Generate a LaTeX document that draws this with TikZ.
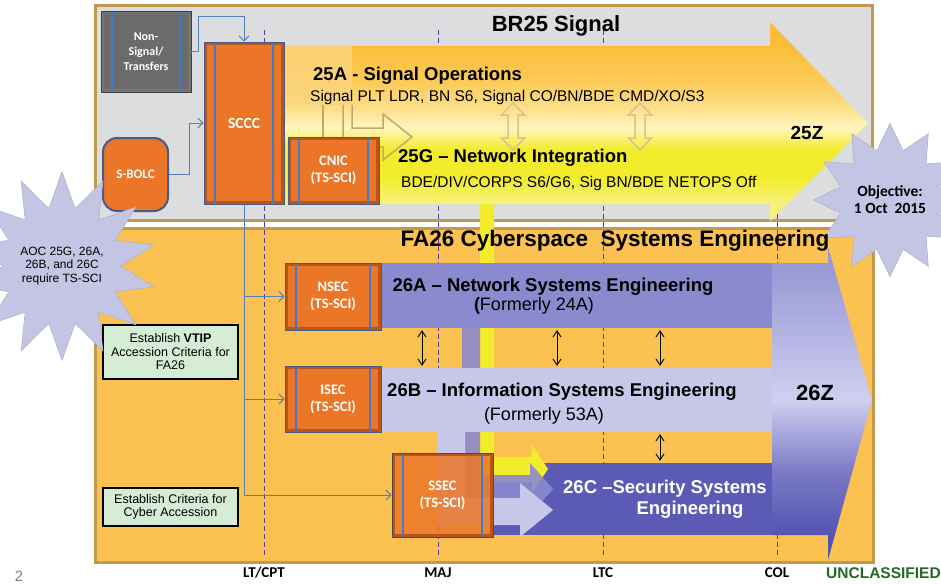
\documentclass[tikz,border=0pt]{standalone}
\usepackage{fontspec}
\setmainfont{Liberation Sans}
\newfontfamily\calib{Carlito}
\usetikzlibrary{positioning,arrows.meta,shapes.geometric}

\definecolor{topgray}{HTML}{DCDDDF}
\definecolor{frametan}{HTML}{BF9A50}
\definecolor{fagold}{HTML}{FBC151}
\definecolor{boxorange}{HTML}{EC7628}
\definecolor{boxrim}{HTML}{BA5519}
\definecolor{boxedge}{HTML}{4A5A86}
\definecolor{stripeblue}{HTML}{3F7BC9}
\definecolor{nsgray}{HTML}{6B6B6B}
\definecolor{connblue}{HTML}{5580B8}
\definecolor{rankpurple}{HTML}{5A3D8F}
\definecolor{lav26A}{HTML}{8A8ACE}
\definecolor{lav26B}{HTML}{C7C7EA}
\definecolor{blue26C}{HTML}{5B5BB5}
\definecolor{starlav}{HTML}{C4C4E4}
\definecolor{vtipgreen}{HTML}{D6EDD5}
\definecolor{unclgreen}{HTML}{206A24}
\definecolor{hollowtan}{HTML}{C4A868}
\definecolor{sigblock}{HTML}{FBD57E}
% 25 series colours
\definecolor{sigorange}{HTML}{FBBD38}
\definecolor{sigorangeb}{HTML}{FCCB58}
\definecolor{sigmid}{HTML}{FDE08C}
\definecolor{sigpale}{HTML}{FFF6BE}
\definecolor{sigyellow}{HTML}{F2EC2C}
\definecolor{sigpaleb}{HTML}{F5F17C}
% 26 series colours
\definecolor{zztop}{HTML}{9898D6}
\definecolor{zzlight}{HTML}{CFCFF0}
\definecolor{zzmid}{HTML}{7A7AC6}
\definecolor{zzdark}{HTML}{5454B2}

\pgfdeclareverticalshading{sigshade}{100bp}{color(0bp)=(sigpaleb); color(29.5bp)=(sigpaleb); color(36bp)=(sigyellow); color(43bp)=(sigyellow); color(48.5bp)=(sigpale); color(53bp)=(sigmid); color(60bp)=(sigorangeb); color(69bp)=(sigorange); color(100bp)=(sigorange)}
\pgfdeclareverticalshading{zshade}{100bp}{color(0bp)=(zzdark); color(29bp)=(zzdark); color(39bp)=(zzmid); color(50.6bp)=(zzlight); color(72bp)=(zztop); color(100bp)=(zztop)}

\tikzset{
  unitbox/.style={draw=boxedge, line width=0.8pt, fill=boxorange, text=white, align=center,
    font=\calib\bfseries\fontsize{14.5}{17}\selectfont,
    path picture={
      \draw[#1, line width=3pt] ([shift={(1.5pt,-1.5pt)}]path picture bounding box.north west) rectangle ([shift={(-1.5pt,1.5pt)}]path picture bounding box.south east);
      \draw[stripeblue, line width=1.2pt] ([xshift=11pt]path picture bounding box.north west) -- ([xshift=11pt]path picture bounding box.south west);
      \draw[stripeblue, line width=1.2pt] ([xshift=-11pt]path picture bounding box.north east) -- ([xshift=-11pt]path picture bounding box.south east);
    }},
  unitbox/.default=boxrim,
  bolcbox/.style={draw=boxedge, line width=2pt, fill=boxorange, rounded corners=14pt, text=white,
    font=\calib\bfseries\fontsize{13}{15}\selectfont},
  band/.style={draw=none, inner sep=0pt},
  conn/.style={draw=connblue, line width=1pt, -{Straight Barb[length=5pt,width=10pt]}},
  twoway/.style={draw=black, line width=0.9pt, {Straight Barb[length=6pt,width=8pt]}-{Straight Barb[length=6pt,width=8pt]}, shorten >=2pt, shorten <=2pt},
  hollowarrow/.style={draw=hollowtan, line width=1.5pt, line join=miter},
  rankline/.style={draw=rankpurple, line width=1pt, dash pattern=on 5pt off 3pt},
  ranklab/.style={font=\calib\bfseries\fontsize{15}{17}\selectfont},
  critbox/.style={draw=black, line width=1.2pt, fill=vtipgreen, align=center, font=\fontsize{12.5}{13.5}\selectfont},
  burst/.style={star, draw=starlav!75!gray, line width=0.6pt, fill=starlav, align=center, inner sep=0pt},
}

\begin{document}
\begin{tikzpicture}[x=1pt, y=-1pt, every node/.style={inner sep=0pt}]
\useasboundingbox (0,0) rectangle (941,583);

% the two frames
\draw[frametan, line width=3pt, fill=topgray] (95,6) rectangle (872,220);
\draw[frametan, line width=3pt, fill=fagold] (95,228) rectangle (873,562);

% rank lines
\foreach \x/\rank [count=\i] in {264/{LT/CPT},438/MAJ,603/LTC,777/COL}{
  \draw[rankline] (\x,30) -- (\x,555);
  \node[ranklab] (rank\i) at (\x,573) {\rank};
}

% 25 series arrow
\shade[shading=sigshade] (284,46) -- (770,46) -- (770,22) -- (868,123) -- (770,221) -- (770,204) -- (284,204) -- cycle;
\node[fill=sigblock, fill opacity=0.8, minimum width=67pt, minimum height=60pt] (sig25A) at (318.5,75) {};

% bent arrow 25A -> 25G
\draw[hollowarrow] (343,105) -- (343,147) -- (383,147) -- (383,160) -- (412,137) -- (383,114) -- (383,128) -- (352,128) -- (352,105);

% two-way hollow arrows
\foreach \x in {513,640}
  \draw[hollowarrow, draw=hollowtan!70] (\x,103) -- (\x+11.5,115) -- (\x+5,115) -- (\x+5,138) -- (\x+11.5,138) -- (\x,150) -- (\x-11.5,138) -- (\x-5,138) -- (\x-5,115) -- (\x-11.5,115) -- cycle;

% 26 series tracks
\node[band, fill=blue26C, minimum width=279pt, minimum height=72pt] (b26C) at (632.5,499) {};
\fill[sigyellow] (480,204) -- (494,204) -- (494,457) -- (532,457) -- (532,445) -- (548,469) -- (532,493) -- (532,482) -- (480,482) -- cycle;
\fill[lav26A, fill opacity=0.9] (462,328) -- (480,328) -- (480,475) -- (530,475) -- (530,463) -- (553,489) -- (530,515) -- (530,500) -- (462,500) -- cycle;
\fill[lav26B] (438,432) -- (465,432) -- (465,498) -- (520,498) -- (520,483) -- (553,510) -- (520,537) -- (520,525) -- (438,525) -- cycle;
\node[band, fill=lav26A, minimum width=392pt, minimum height=65pt] (b26A) at (576,295.5) {};
\node[band, fill=lav26B, minimum width=392pt, minimum height=64pt] (b26B) at (576,400) {};
\shade[shading=zshade] (772,263) -- (828,263) -- (828,247) -- (872,400) -- (828,560) -- (828,535) -- (772,535) -- cycle;

% course boxes
\node[unitbox=black!55, fill=nsgray, draw=black!75, minimum width=90pt, minimum height=81pt,
  font=\calib\bfseries\fontsize{12}{15}\selectfont] (nonsig) at (146,51.5) {Non-\\Signal/\\Transfers};
\node[unitbox, minimum width=80pt, minimum height=162pt, font=\calib\bfseries\fontsize{15.5}{17}\selectfont] (SCCC) at (244,123) {SCCC};
\node[bolcbox, minimum width=65pt, minimum height=73pt] (sbolc) at (135.5,174.5) {S-BOLC};
\node[unitbox, minimum width=91pt, minimum height=67pt] (CNIC) at (333.5,170.5) {CNIC\\(TS-SCI)};
\node[unitbox, minimum width=96pt, minimum height=67pt] (NSEC) at (333,296.5) {NSEC\\(TS-SCI)};
\node[unitbox, minimum width=96pt, minimum height=66pt] (ISEC) at (333,399) {ISEC\\(TS-SCI)};
\node[unitbox, fill opacity=0.85, text opacity=1, draw=black!70, minimum width=101pt, minimum height=84pt] (SSEC) at (442.5,495) {SSEC\\(TS-SCI)};

\draw[hollowarrow] ([xshift=4.5pt]sig25A.south) -- ([xshift=4.5pt]sig25A.south |- CNIC.north);

% feeds
\draw[conn] (nonsig.east) -- ++(7,0) |- ([yshift=25pt]SCCC.north) -- (SCCC.north);
\draw[conn] (sbolc.east) -- ++(20,0) |- (SCCC.west);
\draw[conn] (SCCC.south) |- (NSEC.west);
\draw[conn] (SCCC.south) |- (ISEC.west);
\draw[conn] (SCCC.south) |- (SSEC.west);

% two-way links between tracks
\foreach \dx in {-154,-19,84}
  \draw[twoway] ([xshift=\dx pt]b26A.south) -- ([xshift=\dx pt]b26B.north);
\draw[twoway] ([xshift=84pt]b26B.south) -- ([xshift=84pt]b26B.south |- b26C.north);

% accession boxes
\node[critbox, minimum width=135pt, minimum height=54pt] (vtip) at (170.5,352) {Establish \textbf{VTIP}\\Accession Criteria for\\FA26};
\node[critbox, minimum width=135pt, minimum height=38pt] (cyber) at (170.5,507) {Establish Criteria for\\Cyber Accession};

% notes
\node[burst, star points=14, star point ratio=1.6, minimum size=160pt, font=\fontsize{12}{13.5}\selectfont] (aoc) at (62,266) {AOC 25G, 26A,\\26B, and 26C\\require TS-SCI};
\node[burst, star points=12, star point ratio=1.5, minimum size=108pt, font=\calib\bfseries\fontsize{15.5}{17}\selectfont] (goal) at (890,200) {Objective:\\1 Oct\ \ 2015};

% titles and texts
\node[font=\bfseries\fontsize{22}{24}\selectfont] (brtitle) at (556,26) {BR25 Signal};
\node[font=\bfseries\fontsize{22.5}{24}\selectfont] (fatitle) at (615,241) {FA26 Cyberspace\ \ Systems Engineering};
\node[anchor=west, font=\bfseries\fontsize{18.5}{20}\selectfont] (t25A) at (313,76) {25A - Signal Operations};
\node[anchor=west, font=\fontsize{15.5}{17}\selectfont] (d25A) at (310,97) {Signal PLT LDR, BN S6, Signal CO/BN/BDE CMD/XO/S3};
\node[anchor=west, font=\bfseries\fontsize{18.5}{20}\selectfont] (t25G) at (398,158) {25G – Network Integration};
\node[anchor=west, font=\fontsize{15.5}{17}\selectfont] (d25G) at (401,183) {BDE/DIV/CORPS S6/G6, Sig BN/BDE NETOPS Off};
\node[font=\bfseries\fontsize{19}{20}\selectfont] (z25) at (807,133) {25Z};

\node[font=\bfseries\fontsize{18.5}{20}\selectfont] (t26A) at (553,287) {26A – Network Systems Engineering};
\node[font=\fontsize{18}{20}\selectfont] (f26A) at (534,306) {\textbf{(}Formerly 24A)};
\node[font=\bfseries\fontsize{18.5}{20}\selectfont] (t26B) at (562,392) {26B – Information Systems Engineering};
\node[font=\fontsize{18}{20}\selectfont] (f26B) at (544,416) {(Formerly 53A)};
\node[anchor=west, text=white, font=\bfseries\fontsize{18.5}{20}\selectfont] (t26C) at (563,489) {26C –Security Systems};
\node[text=white, font=\bfseries\fontsize{18.5}{20}\selectfont] (e26C) at (690,510) {Engineering};
\node[font=\bfseries\fontsize{22}{24}\selectfont] (z26) at (815,393) {26Z};

\node[anchor=west, text=unclgreen, font=\bfseries\fontsize{15.5}{17}\selectfont] (uncl) at (826,573) {UNCLASSIFIED};
\node[text=gray, font=\fontsize{15}{17}\selectfont] (pgnum) at (19,576) {2};
\end{tikzpicture}
\end{document}
